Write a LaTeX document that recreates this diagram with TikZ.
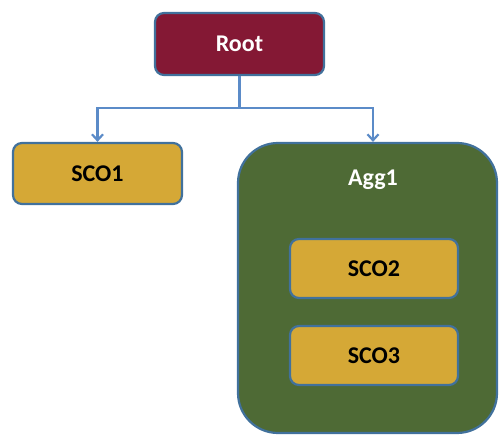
\documentclass[tikz,border=0pt]{standalone}
\usepackage{fontspec}
\setmainfont{Carlito}
\usetikzlibrary{arrows.meta}
\definecolor{rootred}{HTML}{841834}
\definecolor{edgeblue}{HTML}{41719C}
\definecolor{linkblue}{HTML}{5B8BC8}
\definecolor{scogold}{HTML}{D5A836}
\definecolor{agggreen}{HTML}{4E6A35}
\tikzset{
  box/.style={draw=edgeblue, line width=2.2pt, rounded corners=9pt, inner sep=0pt,
    font=\fontsize{24}{28}\selectfont\bfseries},
  rootbox/.style={box, fill=rootred, text=white, minimum width=169pt, minimum height=62pt},
  scobox/.style={box, fill=scogold, text=black, minimum width=169pt, minimum height=61pt},
  innerbox/.style={box, fill=scogold, text=black, minimum width=168pt, minimum height=59pt},
  aggbox/.style={draw=edgeblue, line width=2.2pt, rounded corners=40pt, fill=agggreen},
  link/.style={draw=linkblue, line width=2.2pt},
  linkarrow/.style={link, -{Straight Barb[length=6pt,width=11pt,line width=2.2pt]}}
}
\begin{document}
\begin{tikzpicture}[x=1pt,y=-1pt]
\useasboundingbox (0,0) rectangle (499,435);
\node[rootbox] (root) at (239.5,44) {Root};
\node[scobox] (sco1) at (97.5,173.5) {SCO1};
\node[aggbox, minimum width=259pt, minimum height=290pt, inner sep=0pt] (agg) at (367.5,288) {};
\node[text=white, font=\fontsize{24}{28}\selectfont\bfseries] (agglabel) at (373,180) {Agg1};
\node[innerbox] (sco2) at (374,268.5) {SCO2};
\node[innerbox] (sco3) at (374,355.5) {SCO3};
\coordinate (mid) at (239.5,108);
\draw[link] (root.south) -- (mid);
\draw[linkarrow] (mid) -| (sco1.north);
\draw[linkarrow] (mid) -| (agg.north -| agglabel);
\end{tikzpicture}
\end{document}
